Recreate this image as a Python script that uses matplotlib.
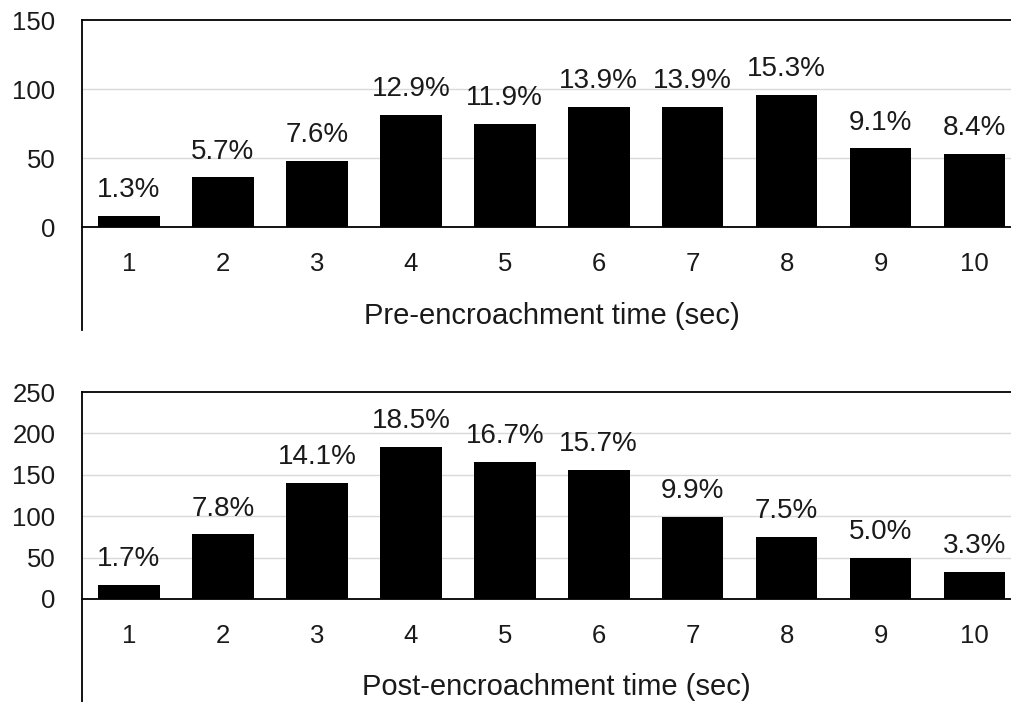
import matplotlib
matplotlib.use("Agg")
import matplotlib.pyplot as plt

categories = [1, 2, 3, 4, 5, 6, 7, 8, 9, 10]
pre_counts = [8, 36, 48, 81, 75, 87, 87, 96, 57, 53]
pre_pct = ["1.3%", "5.7%", "7.6%", "12.9%", "11.9%", "13.9%", "13.9%", "15.3%", "9.1%", "8.4%"]
post_counts = [17, 78, 140, 184, 166, 156, 99, 75, 50, 33]
post_pct = ["1.7%", "7.8%", "14.1%", "18.5%", "16.7%", "15.7%", "9.9%", "7.5%", "5.0%", "3.3%"]
pre_ticks = [0, 50, 100, 150]
post_ticks = [0, 50, 100, 150, 200, 250]

plt.rcParams['font.family'] = ['Liberation Sans', 'DejaVu Sans']
FS_TICK = 18.5
FS_PCT = 20
FS_LAB = 21
W, H = 1011, 702
fig = plt.figure(figsize=(W / 100, H / 100), dpi=100)

def px_axes(left, top, right, bottom):
    return fig.add_axes([left / W, 1 - bottom / H, (right - left) / W, (bottom - top) / H])

def panel(ax, counts, pcts, ticks, ymin, label, lx, ly):
    ymax = ticks[-1]
    ax.set_xlim(0.5, 10.5)
    ax.set_ylim(ymin, ymax)
    for t in ticks[1:-1]:
        ax.axhline(t, color='#d9d9d9', lw=1.0, zorder=0)
    ax.bar(categories, counts, width=0.656, color='black', zorder=2)
    for x, v, p in zip(categories, counts, pcts):
        ax.annotate(p, (x, v), xytext=(0, 13.5), textcoords='offset points',
                    ha='center', va='baseline', fontsize=FS_PCT, color='#1a1a1a')
    ax.spines['right'].set_visible(False)
    ax.spines['top'].set_linewidth(1.3)
    ax.spines['left'].set_linewidth(1.3)
    ax.spines['bottom'].set_position(('data', 0))
    ax.spines['bottom'].set_linewidth(1.3)
    ax.set_xticks(categories)
    ax.set_xticklabels([str(c) for c in categories])
    ax.set_yticks(ticks)
    ax.set_yticklabels([str(t) for t in ticks])
    ax.tick_params(axis='x', length=0, pad=18, labelsize=FS_TICK, colors='#1a1a1a')
    ax.tick_params(axis='y', length=0, pad=19, labelsize=FS_TICK, colors='#1a1a1a')
    fig.text(lx / W, 1 - ly / H, label, ha='left', va='baseline', fontsize=FS_LAB, color='#1a1a1a')

ax1 = px_axes(82, 20, 1021.5, 330)
panel(ax1, pre_counts, pre_pct, pre_ticks, -74.6, "Pre-encroachment time (sec)", 364, 324)

ax2 = px_axes(82, 392, 1021.5, 702)
panel(ax2, post_counts, post_pct, post_ticks, -124.4, "Post-encroachment time (sec)", 362, 695)

fig.savefig("out.png", dpi=100)
